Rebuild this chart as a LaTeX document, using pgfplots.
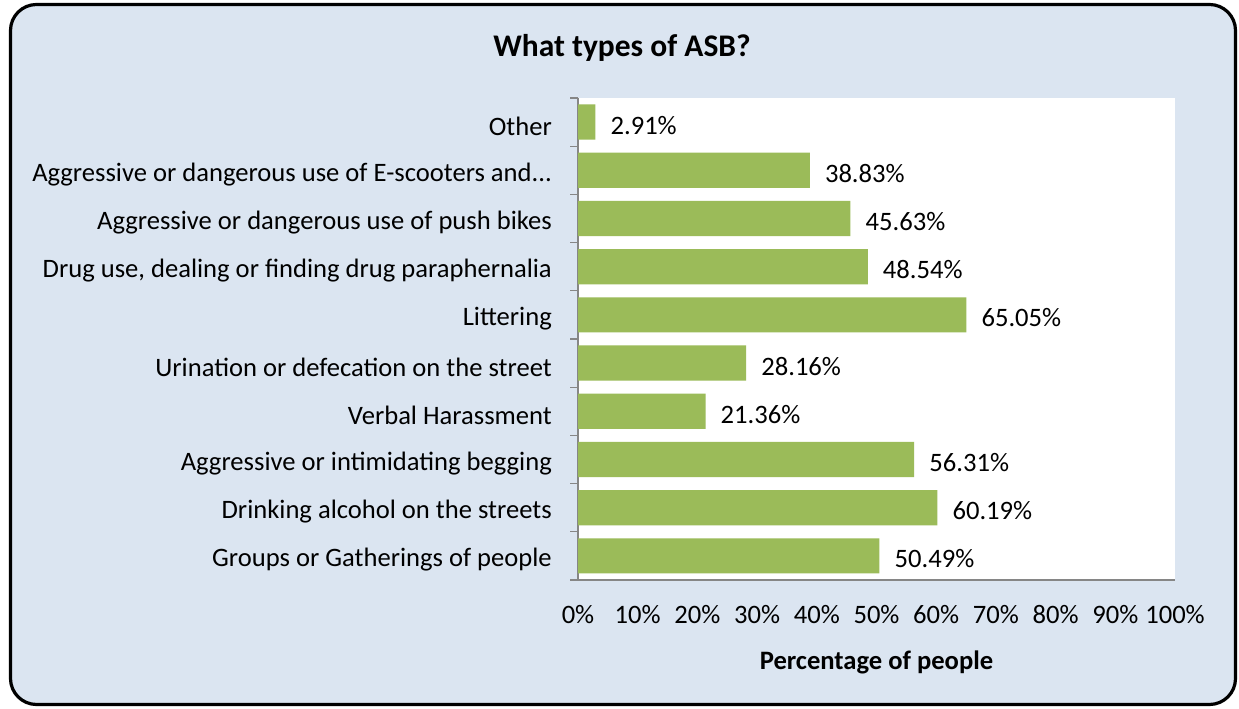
\documentclass[border=0pt]{standalone}
\usepackage{pgfplots}
\pgfplotsset{compat=1.18}
\usepackage{fontspec}
\setmainfont{Carlito}
\definecolor{bgc}{RGB}{219,229,241}
\definecolor{barc}{RGB}{155,187,89}
\definecolor{axc}{RGB}{134,134,134}
\newcommand\escoot{Aggressive or dangerous use of E-scooters and.{}.{}.}
\begin{document}
\begin{tikzpicture}[x=1bp,y=1bp]
\useasboundingbox (0,0) rectangle (1239,709);
\draw[line width=3.2bp, fill=bgc, rounded corners=26bp] (10.5,4.5) rectangle (1235.5,704.5);
\node[font=\fontsize{31.5bp}{36bp}\selectfont\bfseries] at (622,661) {What types of ASB?};
\begin{axis}[
  at={(578bp,129bp)}, anchor=south west,
  scale only axis, width=597bp, height=482bp,
  xmin=0, xmax=100, ymin=-0.5, ymax=9.5,
  xbar, bar width=0.73, bar shift=0pt,
  axis background/.style={fill=white},
  axis x line*=bottom, axis y line*=left,
  axis line style={axc, line width=1.2bp},
  every axis/.append style={font=\fontsize{26.6bp}{31bp}\selectfont},
  /pgf/number format/assume math mode=true,
  xtick={0,10,...,100},
  xticklabels={0\%,10\%,20\%,30\%,40\%,50\%,60\%,70\%,80\%,90\%,100\%},
  xticklabel style={yshift=-22bp},
  ytick={0,...,9},
  yticklabels={Groups or Gatherings of people,Drinking alcohol on the streets,Aggressive or intimidating begging,Verbal Harassment,Urination or defecation on the street,Littering,{Drug use, dealing or finding drug paraphernalia},Aggressive or dangerous use of push bikes,\escoot,Other},
  yticklabel style={anchor=east, inner sep=0pt, xshift=-26bp, yshift=-4bp},
  major tick length=0pt,
  minor ytick={-0.5,0.5,...,9.5},
  minor tick length=8bp,
  tick align=outside,
  minor tick style={axc, line width=1.2bp},
  xlabel={\bfseries Percentage of people},
  xlabel style={yshift=-20bp},
  nodes near coords={\pgfmathprintnumber[fixed,precision=2,fixed zerofill]{\pgfplotspointmeta}\%},
  point meta=x,
  nodes near coords style={anchor=west, inner sep=0pt, xshift=15bp, yshift=-3bp, black},
]
\addplot[fill=barc, draw=none] coordinates {
(50.49,0) (60.19,1) (56.31,2) (21.36,3) (28.16,4) (65.05,5) (48.54,6) (45.63,7) (38.83,8) (2.91,9)};
\end{axis}
\end{tikzpicture}
\end{document}
